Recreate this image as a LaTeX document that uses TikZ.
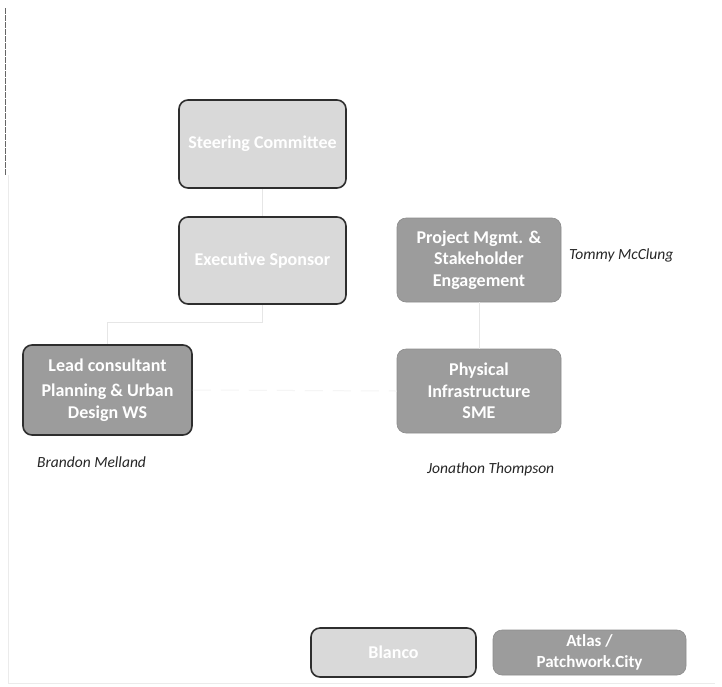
\documentclass[tikz,border=0pt]{standalone}
\usepackage{fontspec}
\setmainfont{Carlito}
\definecolor{lightbox}{HTML}{D9D9D9}
\definecolor{midbox}{HTML}{9C9C9C}
\definecolor{edgedark}{HTML}{2E2E2E}
\definecolor{connect}{HTML}{E6E6E6}
\begin{document}
\begin{tikzpicture}[x=1pt,y=-1pt,
  base/.style={rectangle,rounded corners=9pt,align=center,text=white,font=\bfseries\fontsize{18}{21.5}\selectfont,inner sep=0pt},
  lightnode/.style={base,fill=lightbox,draw=edgedark,line width=1.6pt},
  midnode/.style={base,fill=midbox,draw=midbox!90!black,line width=0.6pt},
  leadnode/.style={base,fill=midbox,draw=edgedark,line width=1.6pt},
  person/.style={font=\itshape\fontsize{15.5}{18}\selectfont,text=black!85,inner sep=0pt},
  link/.style={draw=connect,line width=1pt}]
\useasboundingbox (0,0) rectangle (722,686);
\fill[white] (0,0) rectangle (722,686);
% scan border artefacts
\draw[black!60,line width=0.8pt,dash pattern=on 6pt off 1pt] (5,8) -- (5,175);
\draw[black!8,line width=0.8pt] (8,175) -- (8,683) -- (715,683);
% nodes
\node[lightnode,minimum width=167pt,minimum height=88pt] (steer) at (262.5,144) {Steering Committee};
\node[lightnode,minimum width=167pt,minimum height=87pt] (exec) at (262.5,260.5) {Executive Sponsor};
\node[midnode,minimum width=164pt,minimum height=84pt] (pm) at (479,260) {Project Mgmt. \&\\Stakeholder\\Engagement};
\node[midnode,minimum width=164pt,minimum height=84pt] (phys) at (479,391) {Physical\\Infrastructure\\SME};
\node[leadnode,minimum width=169pt,minimum height=90pt] (lead) at (107.5,390) {Lead consultant\\[4pt]Planning \& Urban\\Design WS};
\node[lightnode,minimum width=165pt,minimum height=49pt] (blanco) at (393.5,652.5) {Blanco};
\node[midnode,minimum width=193pt,minimum height=45pt,font=\bfseries\fontsize{17}{21.5}\selectfont] (atlas) at (589.5,652.5) {Atlas /\\Patchwork.City};
% people
\node[person,anchor=west] (tommy) at (569,255) {Tommy McClung};
\node[person,anchor=west] (brandon) at (37,462) {Brandon Melland};
\node[person,anchor=west] (jon) at (427,469) {Jonathon Thompson};
% connectors
\coordinate (branch) at (262.5,322);
\coordinate (leadtop) at (107.5,322);
\draw[link] (steer.south) -- (exec.north);
\draw[link] (exec.south) -- (branch) -- (leadtop) -- (lead.north);
\draw[link] (pm.south) -- (phys.north);
\draw[draw=black!4,line width=1pt,dash pattern=on 18pt off 10pt] (lead.east) -- (phys.west);
\end{tikzpicture}
\end{document}
